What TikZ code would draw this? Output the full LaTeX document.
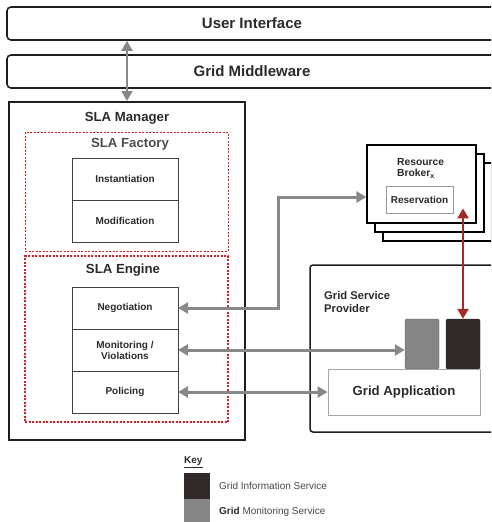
\documentclass[tikz,border=0pt]{standalone}
\usepackage{fontspec}
\setmainfont{Liberation Sans}
\usetikzlibrary{arrows.meta, positioning, calc}
\definecolor{cdark}{HTML}{1E1E1E}
\definecolor{cgrey}{HTML}{888888}
\definecolor{cred}{HTML}{D42020}
\definecolor{cwine}{HTML}{A12A2A}
\definecolor{cgis}{HTML}{302B28}
\definecolor{cgms}{HTML}{858585}
\definecolor{ctext}{HTML}{2A2A2A}
\tikzset{
  every picture/.style={x=1pt, y=-1pt},
  layer/.style={draw=cdark, rounded corners=4pt, line width=1.6pt, minimum width=490pt, minimum height=33pt, font=\fontsize{15}{18}\selectfont\bfseries, text=ctext},
  region/.style={draw=cred, dash pattern=on 2pt off 1.5pt, line width=1pt, minimum width=203pt, inner sep=0pt},
  cell/.style={draw=cdark!85, line width=0.9pt, minimum width=106pt, minimum height=42pt, align=center, inner sep=2pt, outer sep=0pt, font=\fontsize{10}{11}\selectfont\bfseries, text=ctext},
  title/.style={font=\fontsize{13.2}{15}\selectfont\bfseries, text=ctext},
  plate/.style={draw=black, fill=white, line width=1.3pt, minimum width=109pt, minimum height=78pt},
  service/.style={rounded corners=2pt, draw=#1!70!black, fill=#1, minimum width=34pt, minimum height=50pt},
  garrow/.style={{Triangle[length=10pt,width=11pt]}-{Triangle[length=10pt,width=11pt]}, draw=cgrey, line width=3pt},
  rarrow/.style={{Triangle[length=10pt,width=11pt]}-{Triangle[length=10pt,width=11pt]}, draw=cwine, line width=2.6pt},
  note/.style={font=\fontsize{10}{12}\selectfont, text=black!72, inner sep=0pt},
}
\begin{document}
\begin{tikzpicture}
  \clip (0,0) rectangle (491,522);
  \node[layer] (ui) at (252,23.5) {User Interface};
  \node[layer] (gm) at (252,71.5) {Grid Middleware};
  % SLA manager
  \node[draw=cdark, line width=2pt, minimum width=236pt, minimum height=338pt] (mgr) at (127,271) {};
  \node[title] (mgrtitle) at (127,118) {SLA Manager};
  \node[region, minimum height=119pt] (fac) at (126.5,191.5) {};
  \node[title, text=black!70] (factitle) at (130,144) {SLA Factory};
  \node[cell] (inst) at (125,179) {Instantiation};
  \node[cell, below=0pt of inst] (mod) {Modification};
  \node[region, line width=1.3pt, minimum height=166pt] (eng) at (126.5,339) {};
  \node[title] (engtitle) at (123,270) {SLA Engine};
  \node[cell] (neg) at (125,308) {Negotiation};
  \node[cell, below=0pt of neg] (mon) {Monitoring /\\Violations};
  \node[cell, below=0pt of mon] (pol) {Policing};
  % resource broker stack
  \node[plate] (rb3) at (437.5,202) {};
  \node[plate] (rb2) at (429.5,193) {};
  \node[plate] (rb) at (421.5,184) {};
  \node[anchor=west, align=left, inner sep=0pt, font=\fontsize{10.3}{11}\selectfont\bfseries, text=ctext] (rbtext) at (397,168.5) {Resource\\Broker\textsubscript{x}};
  \node[draw=black!40, line width=0.8pt, minimum width=67pt, minimum height=27pt, font=\fontsize{10}{12}\selectfont\bfseries, text=ctext] (res) at (419.5,199.5) {Reservation};
  % grid service provider
  \node[draw=cdark, rounded corners=3pt, line width=1.5pt, minimum width=200pt, minimum height=167pt] (gsp) at (410,348.5) {};
  \node[anchor=west, align=left, inner sep=0pt, font=\fontsize{11.2}{13}\selectfont\bfseries, text=ctext] (gsptext) at (324,301.5) {Grid Service\\Provider};
  \node[service=cgms] (gms) at (422,344) {};
  \node[service=cgis] (gis) at (463,344) {};
  \node[draw=black!35, line width=0.8pt, minimum width=152pt, minimum height=46pt, title] (app) at (404,392) {Grid Application};
  % key
  \node[anchor=west, inner sep=0pt, font=\fontsize{10}{12}\selectfont\bfseries, text=ctext] (key) at (184,462) {\underline{Key}};
  \node[fill=cgis, minimum size=26pt, inner sep=0pt, outer sep=0pt] (gissw) at (197,486) {};
  \node[fill=cgms, minimum size=26pt, inner sep=0pt, outer sep=0pt, below=0pt of gissw] (gmssw) {};
  \node[note, right=9pt of gissw] (gistext) {Grid Information Service};
  \node[note, right=9pt of gmssw] (gmstext) {\textbf{\color{ctext}Grid} Monitoring Service};
  % connectors
  \draw[garrow, line width=2pt] (mgr.north) -- (mgr.north |- ui.south);
  \coordinate (nbend) at (278,197);
  \draw[garrow] (neg.east) -| (nbend) -- (nbend -| rb.west);
  \draw[garrow] (mon.east) -- (mon.east -| gms.west);
  \draw[garrow] (pol.east) -- (pol.east -| app.west);
  \draw[rarrow] (gis.north) -- ($(gis.north |- res.south)+(0,-5)$);
\end{tikzpicture}
\end{document}
